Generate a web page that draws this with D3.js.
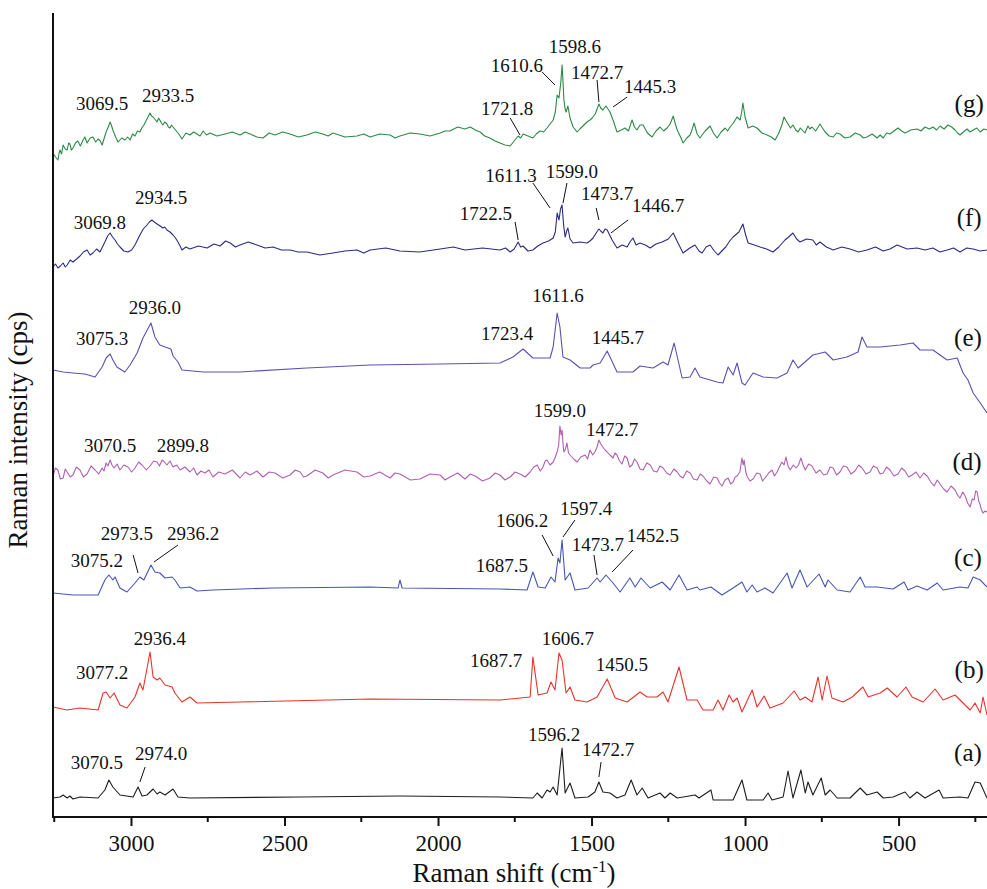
<!DOCTYPE html>
<html><head><meta charset="utf-8">
<script src="https://cdn.jsdelivr.net/npm/d3@7"></script>
<style>
html,body{margin:0;padding:0;background:#fff;}
</style></head>
<body><svg id="chart" width="987" height="889"></svg>
<script>
// ---------- DATA (wavenumber cm-1, stacked intensity a.u.) ----------
const seriesNames = ["(a)","(b)","(c)","(d)","(e)","(f)","(g)"];

const specA = [[3254,19],[3231,20],[3221,22],[3208,19],[3199,21],[3189,18],[3166,20],[3107,19],[3085,27],[3072,37],[3059,30],[3036,22],[2993,20],[2977,30],[2964,21],[2948,22],[2928,28],[2915,23],[2906,25],[2889,22],[2863,28],[2847,20],[2808,19],[2449,20],[2124,21],[1798,20],[1691,19],[1677,24],[1661,19],[1645,27],[1635,25],[1625,30],[1612,22],[1596,69],[1586,24],[1570,34],[1554,19],[1511,20],[1489,25],[1476,35],[1463,25],[1440,24],[1417,19],[1391,22],[1371,37],[1352,22],[1335,29],[1316,19],[1277,24],[1261,19],[1244,24],[1221,19],[1163,22],[1150,19],[1111,27],[1104,17],[1039,17],[1010,37],[994,17],[941,17],[925,24],[912,17],[876,20],[860,46],[844,19],[818,47],[804,24],[795,35],[779,22],[752,39],[739,22],[723,27],[700,19],[658,19],[625,29],[603,22],[570,25],[550,19],[518,20],[479,25],[463,19],[440,25],[414,19],[368,27],[355,19],[300,20],[274,19],[251,35],[234,34],[212,19]];

const specB = [[3254,110],[3208,107],[3166,109],[3107,107],[3091,124],[3081,125],[3068,119],[3055,124],[3036,112],[3013,109],[2987,120],[2971,134],[2961,127],[2938,165],[2928,140],[2915,137],[2906,139],[2889,132],[2866,130],[2857,124],[2834,115],[2808,120],[2785,114],[2645,115],[2221,118],[1798,117],[1700,120],[1691,160],[1674,122],[1645,124],[1632,135],[1619,127],[1606,164],[1596,157],[1583,124],[1570,130],[1554,117],[1515,115],[1482,120],[1449,138],[1423,119],[1384,115],[1342,125],[1319,120],[1287,120],[1267,125],[1251,115],[1215,150],[1189,117],[1156,117],[1137,107],[1104,107],[1088,117],[1072,107],[1052,122],[1039,115],[1026,119],[1010,105],[977,127],[961,110],[938,121],[919,109],[876,114],[840,126],[821,117],[804,120],[782,115],[762,140],[749,117],[733,141],[717,119],[681,115],[651,120],[616,130],[599,120],[560,124],[537,129],[505,120],[476,130],[456,120],[420,115],[381,128],[355,117],[316,122],[290,114],[267,107],[251,114],[234,104],[225,120],[212,102]];

const specC = [[3254,224],[3189,222],[3107,222],[3085,237],[3072,242],[3059,237],[3052,240],[3036,229],[3013,225],[2987,234],[2971,240],[2958,237],[2935,252],[2922,245],[2906,244],[2889,239],[2866,240],[2857,237],[2840,229],[2808,230],[2785,226],[2733,227],[2537,229],[2221,230],[2130,229],[2124,237],[2117,229],[1798,228],[1710,227],[1691,245],[1674,230],[1651,229],[1632,240],[1619,235],[1609,259],[1603,254],[1596,277],[1586,237],[1570,244],[1554,227],[1511,229],[1482,239],[1472,235],[1453,242],[1430,234],[1407,225],[1375,239],[1358,230],[1339,239],[1309,229],[1270,235],[1244,227],[1215,242],[1189,227],[1156,230],[1147,227],[1111,230],[1075,222],[1039,229],[1010,235],[994,225],[977,232],[961,225],[935,229],[909,224],[863,244],[847,229],[821,247],[798,230],[759,243],[739,230],[730,237],[700,227],[658,225],[625,240],[609,230],[570,230],[518,228],[482,235],[469,227],[440,231],[407,227],[374,234],[355,227],[300,230],[274,229],[257,240],[234,237],[212,230]];

const specD = [[3254,341],[3246,349],[3238,347],[3230,338],[3221,339],[3214,348],[3208,345],[3198,340],[3189,342],[3178,350],[3166,347],[3155,340],[3143,343],[3130,351],[3117,347],[3105,343],[3094,349],[3088,346],[3081,354],[3075,351],[3068,357],[3062,352],[3055,349],[3045,353],[3036,347],[3023,352],[3010,350],[2998,345],[2987,349],[2975,355],[2964,352],[2950,347],[2938,351],[2926,356],[2915,355],[2907,351],[2899,357],[2891,355],[2883,352],[2873,356],[2863,350],[2851,352],[2840,347],[2824,350],[2808,345],[2796,349],[2785,342],[2772,346],[2759,344],[2746,347],[2733,340],[2714,345],[2694,343],[2670,347],[2645,339],[2628,345],[2612,342],[2590,346],[2570,340],[2550,345],[2531,344],[2506,339],[2482,342],[2465,347],[2449,345],[2438,340],[2427,341],[2400,347],[2375,344],[2358,339],[2342,342],[2303,347],[2264,345],[2242,340],[2221,341],[2190,345],[2156,339],[2140,344],[2124,343],[2090,337],[2059,338],[2026,343],[1993,342],[1977,337],[1961,340],[1936,344],[1912,338],[1895,343],[1879,341],[1855,336],[1831,339],[1814,344],[1798,342],[1782,337],[1765,340],[1749,345],[1733,343],[1716,340],[1700,345],[1688,350],[1677,352],[1667,346],[1658,350],[1651,356],[1645,357],[1635,352],[1625,355],[1618,360],[1612,365],[1607,372],[1603,391],[1599,382],[1596,387],[1592,370],[1590,365],[1585,368],[1580,374],[1575,364],[1570,362],[1558,358],[1547,355],[1535,360],[1521,362],[1513,358],[1505,367],[1496,362],[1489,365],[1482,370],[1476,377],[1470,373],[1463,370],[1456,367],[1449,365],[1440,362],[1430,359],[1424,364],[1417,362],[1409,356],[1401,353],[1392,361],[1384,359],[1376,350],[1368,352],[1360,358],[1352,355],[1342,348],[1332,347],[1320,354],[1309,352],[1298,346],[1287,345],[1277,351],[1267,349],[1255,344],[1244,342],[1232,348],[1221,345],[1212,341],[1202,339],[1190,346],[1179,344],[1168,338],[1156,337],[1146,343],[1137,341],[1125,336],[1114,333],[1102,340],[1091,339],[1083,334],[1075,331],[1065,337],[1055,339],[1047,333],[1039,335],[1032,340],[1026,341],[1017,345],[1010,359],[1006,352],[1003,357],[998,346],[994,341],[984,336],[974,338],[962,344],[951,343],[943,336],[935,339],[923,344],[912,347],[904,341],[896,345],[888,350],[880,355],[873,352],[867,360],[860,351],[853,347],[843,352],[834,349],[826,352],[818,359],[811,352],[804,347],[793,353],[782,351],[769,344],[756,347],[744,342],[733,343],[723,350],[713,349],[702,342],[691,345],[680,351],[668,350],[655,343],[642,346],[630,352],[619,349],[606,343],[593,345],[582,351],[570,349],[560,343],[550,344],[539,350],[528,347],[515,341],[502,343],[490,349],[479,346],[467,340],[456,342],[443,345],[430,339],[418,344],[407,341],[395,335],[384,331],[374,337],[365,333],[353,328],[342,325],[329,331],[316,327],[308,322],[300,319],[291,325],[283,321],[275,314],[267,310],[260,318],[254,317],[249,326],[244,325],[239,316],[234,312],[230,307],[225,304],[218,306],[212,305]];

const specE = [[3254,447],[3221,445],[3189,444],[3150,443],[3117,440],[3094,450],[3081,459],[3068,463],[3059,457],[3046,450],[3020,445],[3003,452],[2980,464],[2961,479],[2935,494],[2922,480],[2906,472],[2889,470],[2870,468],[2863,461],[2847,455],[2834,447],[2765,445],[2645,445],[2427,449],[2221,452],[1993,453],[1798,454],[1756,460],[1723,468],[1691,459],[1635,459],[1625,470],[1612,504],[1603,490],[1593,460],[1570,457],[1537,449],[1505,449],[1495,452],[1472,454],[1449,466],[1417,445],[1365,445],[1342,451],[1300,449],[1267,455],[1251,452],[1231,474],[1205,439],[1179,440],[1163,449],[1147,440],[1091,435],[1072,434],[1055,450],[1039,442],[1026,454],[1010,434],[1000,432],[974,444],[941,440],[896,439],[863,444],[844,457],[827,449],[779,462],[739,465],[713,457],[668,460],[632,465],[619,480],[603,470],[560,470],[495,472],[453,474],[430,467],[388,467],[342,457],[309,459],[290,444],[274,437],[257,424],[234,414],[212,404]];

const specF = [[3254,550],[3246,553],[3238,549],[3230,551],[3221,554],[3214,550],[3208,552],[3198,557],[3189,555],[3177,558],[3166,561],[3155,565],[3143,567],[3133,562],[3124,564],[3112,568],[3101,565],[3093,570],[3085,575],[3076,581],[3068,584],[3060,580],[3052,577],[3044,573],[3036,570],[3023,566],[3010,565],[2998,567],[2987,572],[2979,577],[2971,582],[2960,588],[2948,592],[2940,595],[2932,597],[2924,595],[2915,593],[2905,591],[2896,589],[2890,590],[2883,587],[2873,585],[2863,582],[2855,579],[2847,575],[2840,571],[2834,567],[2821,570],[2808,568],[2780,571],[2752,569],[2730,573],[2710,571],[2692,576],[2677,574],[2660,570],[2645,572],[2618,575],[2590,572],[2563,569],[2537,570],[2510,567],[2482,567],[2455,565],[2427,565],[2385,562],[2342,564],[2303,566],[2264,567],[2242,564],[2221,567],[2170,569],[2124,566],[2060,565],[1993,568],[1950,570],[1912,567],[1855,569],[1798,567],[1780,569],[1765,565],[1752,568],[1739,575],[1731,570],[1723,571],[1707,566],[1691,567],[1675,571],[1658,574],[1640,576],[1625,579],[1618,585],[1612,604],[1606,597],[1601,608],[1596,612],[1591,592],[1586,580],[1581,586],[1577,589],[1570,578],[1560,574],[1537,575],[1515,574],[1505,576],[1495,579],[1485,584],[1476,588],[1470,586],[1463,584],[1456,588],[1449,587],[1433,577],[1417,569],[1400,572],[1384,570],[1375,575],[1365,579],[1355,572],[1342,574],[1325,572],[1309,569],[1290,573],[1270,575],[1250,578],[1234,584],[1220,575],[1202,564],[1180,569],[1163,572],[1150,566],[1140,564],[1127,570],[1114,572],[1100,566],[1088,562],[1063,570],[1050,576],[1039,580],[1020,585],[1007,593],[998,582],[990,574],[970,572],[951,570],[930,568],[909,565],[890,570],[870,577],[858,580],[844,584],[832,578],[821,575],[800,578],[779,577],[768,572],[756,575],[735,570],[713,567],[685,570],[658,568],[630,565],[603,567],[575,570],[550,566],[528,568],[505,572],[472,568],[440,569],[414,567],[388,569],[365,565],[342,567],[321,569],[300,565],[278,569],[257,568],[234,566],[212,567]];

const specG = [[3254,664],[3246,660],[3238,657],[3234,664],[3231,667],[3226,663],[3221,672],[3214,668],[3208,667],[3203,674],[3199,673],[3194,667],[3189,669],[3181,674],[3173,676],[3165,671],[3156,677],[3150,680],[3143,674],[3133,679],[3124,680],[3115,675],[3107,678],[3100,676],[3094,672],[3088,678],[3081,685],[3074,690],[3068,695],[3063,691],[3059,687],[3050,680],[3042,675],[3030,679],[3020,677],[3011,680],[3003,677],[2995,683],[2987,681],[2979,686],[2971,685],[2965,689],[2958,692],[2948,698],[2938,704],[2933,701],[2928,700],[2920,697],[2915,695],[2910,699],[2906,697],[2901,694],[2896,692],[2890,695],[2883,693],[2878,690],[2873,689],[2868,692],[2863,690],[2855,687],[2847,684],[2840,681],[2834,678],[2821,684],[2808,682],[2796,685],[2785,683],[2775,681],[2765,686],[2754,682],[2743,684],[2720,681],[2694,683],[2670,685],[2645,682],[2628,685],[2612,683],[2590,680],[2570,679],[2550,684],[2531,682],[2506,685],[2482,683],[2455,680],[2427,682],[2400,685],[2375,683],[2358,681],[2342,684],[2303,680],[2264,681],[2242,683],[2221,680],[2190,683],[2156,682],[2140,679],[2124,681],[2090,684],[2059,683],[2026,681],[1993,684],[1977,686],[1961,686],[1936,690],[1912,688],[1895,690],[1879,687],[1863,685],[1848,681],[1831,679],[1814,676],[1798,674],[1782,672],[1765,671],[1752,676],[1739,681],[1731,679],[1723,683],[1707,681],[1691,679],[1680,683],[1668,686],[1656,685],[1645,689],[1635,693],[1625,697],[1618,705],[1612,722],[1606,719],[1600,735],[1596,752],[1592,730],[1590,717],[1586,708],[1583,705],[1577,711],[1570,699],[1560,690],[1547,685],[1538,688],[1528,691],[1515,695],[1505,697],[1498,699],[1488,703],[1476,713],[1470,709],[1463,707],[1453,711],[1440,705],[1430,697],[1417,685],[1403,687],[1391,689],[1380,686],[1368,697],[1360,690],[1352,687],[1342,692],[1332,692],[1318,684],[1303,680],[1290,686],[1277,690],[1265,686],[1254,689],[1244,693],[1234,701],[1228,694],[1221,687],[1210,680],[1202,674],[1190,679],[1179,682],[1172,688],[1166,694],[1156,683],[1147,679],[1130,686],[1114,691],[1103,684],[1091,679],[1078,685],[1065,689],[1057,686],[1049,690],[1038,694],[1026,700],[1016,697],[1011,705],[1007,714],[1000,700],[990,689],[975,691],[961,689],[945,684],[928,682],[915,680],[902,677],[890,684],[880,692],[873,700],[866,696],[860,693],[852,689],[844,692],[835,687],[827,685],[820,689],[814,687],[805,684],[795,691],[789,688],[782,690],[770,686],[756,693],[748,689],[739,685],[726,681],[713,680],[702,684],[691,683],[675,679],[658,680],[641,684],[625,682],[614,679],[603,680],[586,683],[570,679],[560,682],[550,679],[539,684],[528,683],[515,686],[502,689],[490,686],[479,684],[460,687],[440,688],[427,686],[414,690],[400,688],[388,690],[376,687],[365,691],[352,688],[339,692],[327,690],[316,687],[308,684],[300,682],[289,685],[277,688],[267,685],[257,687],[245,689],[234,685],[222,688],[212,687]];

const spectra = [specA, specB, specC, specD, specE, specF, specG];

// x ticks
const majorTicks = [3000, 2500, 2000, 1500, 1000, 500];
const minorTicks = [3250, 2750, 2250, 1750, 1250, 750, 250];

// peak annotations: [text, wavenumber, intensity]
const peakLabels = [
  ["3069.5",3094,714],["2933.5",2879,722],["1721.8",1775,709],["1610.6",1743,752],["1598.6",1554,771],["1472.7",1482,745],["1445.3",1309,731],
  ["3069.8",3101,595],["2934.5",2902,620],["1722.5",1844,604],["1611.3",1762,642],["1599.0",1564,646],["1473.7",1449,624],["1446.7",1283,612],
  ["3075.3",3094,479],["2936.0",2922,510],["1723.4",1775,484],["1611.6",1609,522],["1445.7",1414,480],
  ["3070.5",3068,372],["2899.8",2831,372],["1599.0",1603,407],["1472.7",1433,388],
  ["3075.2",3111,257],["2973.5",3013,284],["2936.2",2798,284],["1687.5",1792,252],["1606.2",1726,297],["1597.4",1518,309],["1473.7",1479,273],["1452.5",1300,282],
  ["3077.2",3094,145],["2936.4",2906,179],["1687.7",1811,157],["1606.7",1577,179],["1450.5",1401,153],
  ["3070.5",3111,55],["2974.0",2902,64],["1596.2",1622,83],["1472.7",1446,68]
];
// leader lines: [wn1, int1, wn2, int2]
const leaders = [
  [1765,699,1733,682],[1661,745,1619,732],[1482,737,1476,715],[1384,720,1430,710],
  [1749,595,1739,577],[1691,634,1635,609],[1580,634,1593,614],[1485,609,1476,597],[1381,597,1437,584],
  [2993,262,2977,244],[2847,272,2925,255],[1661,282,1625,261],[1554,297,1593,280],[1492,262,1482,242],[1365,267,1433,245],
  [2954,50,2971,35],[1469,55,1476,40]
];
// series tags: position of "(x)" labels
const tagPos = [[274,65],[270,148],[274,260],[277,356],[274,480],[270,600],[270,714]];

// ---------- STYLE ----------
const colors = ["#1e1e1e","#e8322c","#4656b4","#b060b2","#5c50b4","#2b2b84","#2b8a45"];
const FONT = "'Liberation Serif', 'Times New Roman', 'DejaVu Serif', serif";

const svg = d3.select("#chart").attr("font-family", FONT);
const W = 987, H = 889;
const margin = {left:53, right:0, top:13, bottom:72};
const x = d3.scaleLinear().domain([3254, 212]).range([margin.left, W - margin.right]);
const y = d3.scaleLinear().domain([0, 804]).range([H - margin.bottom, margin.top]);

const line = d3.line().x(d => x(d[0])).y(d => y(d[1]));

svg.append("g").selectAll("path").data(spectra).join("path")
  .attr("d", line).attr("fill","none")
  .attr("stroke",(d,i)=>colors[i]).attr("stroke-width",1.1).attr("stroke-linejoin","round");

// axes
const axisY = H - margin.bottom;
const gx = svg.append("g").attr("transform",`translate(0,${axisY})`)
  .call(d3.axisBottom(x).tickValues(majorTicks).tickSize(9).tickFormat(d3.format("d")));
gx.attr("font-family", FONT);
gx.select(".domain").remove();
gx.selectAll(".tick line").attr("stroke","#111").attr("stroke-width",2);
gx.selectAll(".tick text").attr("font-size",23).attr("dy","0.95em").attr("fill","#111");
svg.append("g").attr("transform",`translate(0,${axisY})`).selectAll("line").data(minorTicks).join("line")
  .attr("x1",d=>x(d)).attr("x2",d=>x(d)).attr("y1",0).attr("y2",5).attr("stroke","#111").attr("stroke-width",2);
svg.append("line").attr("x1",margin.left).attr("x2",W).attr("y1",axisY).attr("y2",axisY).attr("stroke","#111").attr("stroke-width",2);
svg.append("line").attr("x1",margin.left).attr("x2",margin.left).attr("y1",margin.top).attr("y2",axisY+1).attr("stroke","#111").attr("stroke-width",2);

// annotations
svg.append("g").selectAll("text").data(peakLabels).join("text")
  .attr("x",d=>x(d[1])).attr("y",d=>y(d[2])).attr("dy","0.35em").attr("text-anchor","middle")
  .attr("font-size",19).attr("fill","#111").text(d=>d[0]);
svg.append("g").selectAll("line").data(leaders).join("line")
  .attr("x1",d=>x(d[0])).attr("y1",d=>y(d[1])).attr("x2",d=>x(d[2])).attr("y2",d=>y(d[3]))
  .attr("stroke","#111").attr("stroke-width",1);
svg.append("g").selectAll("text").data(tagPos).join("text")
  .attr("x",d=>x(d[0])).attr("y",d=>y(d[1])).attr("dy","0.35em").attr("text-anchor","middle")
  .attr("font-size",25).attr("fill","#111").text((d,i)=>seriesNames[i]);

// axis titles
const xt = svg.append("text").attr("x",514).attr("y",882).attr("text-anchor","middle").attr("font-size",27).attr("fill","#111");
xt.append("tspan").text("Raman shift (cm");
xt.append("tspan").attr("font-size",17).attr("dy",-10).text("-1");
xt.append("tspan").attr("dy",10).text(")");
svg.append("text").attr("transform","translate(27,430) rotate(-90)").attr("text-anchor","middle")
  .attr("font-size",27).attr("fill","#111").text("Raman intensity (cps)");
</script></body></html>
